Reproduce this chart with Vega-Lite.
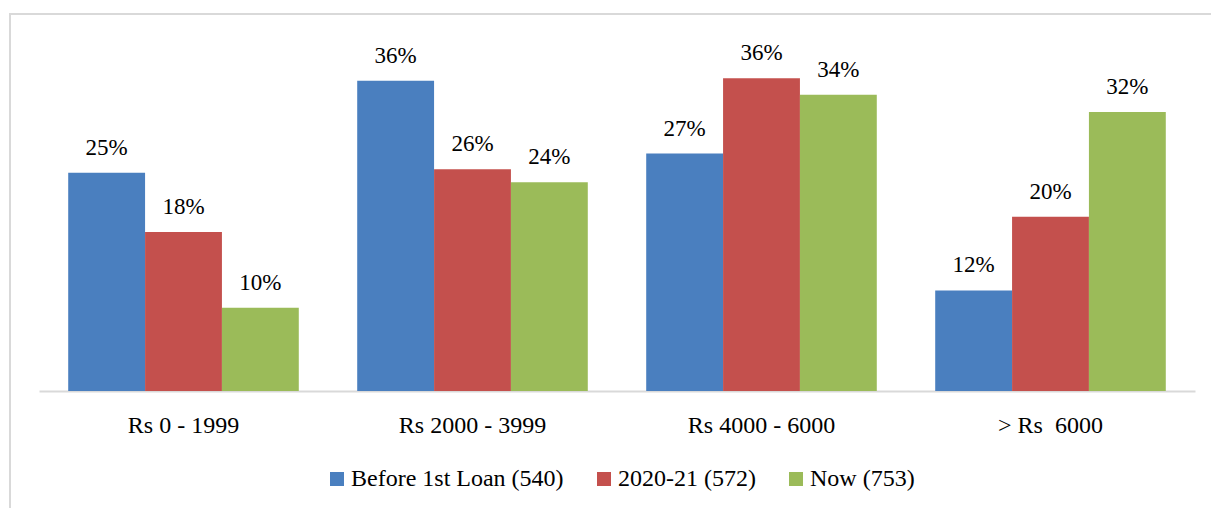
{
  "$schema": "https://vega.github.io/schema/vega-lite/v6.json",
  "autosize": {"type": "none"},
  "padding": {"left": 10, "top": 14, "right": 0, "bottom": 0},
  "width": 1205,
  "height": 498,
  "background": "white",
  "config": {
    "view": {"stroke": "#d9d9d9", "strokeWidth": 2},
    "font": "Liberation Serif"
  },
  "data": {
    "values": [
      {"band": "Rs 0 - 1999", "series": "Before 1st Loan (540)", "value": 0.252},
      {"band": "Rs 0 - 1999", "series": "2020-21 (572)", "value": 0.1835},
      {"band": "Rs 0 - 1999", "series": "Now (753)", "value": 0.096},
      {"band": "Rs 2000 - 3999", "series": "Before 1st Loan (540)", "value": 0.358},
      {"band": "Rs 2000 - 3999", "series": "2020-21 (572)", "value": 0.256},
      {"band": "Rs 2000 - 3999", "series": "Now (753)", "value": 0.241},
      {"band": "Rs 4000 - 6000", "series": "Before 1st Loan (540)", "value": 0.274},
      {"band": "Rs 4000 - 6000", "series": "2020-21 (572)", "value": 0.361},
      {"band": "Rs 4000 - 6000", "series": "Now (753)", "value": 0.342},
      {"band": "> Rs\u00a0 6000", "series": "Before 1st Loan (540)", "value": 0.116},
      {"band": "> Rs\u00a0 6000", "series": "2020-21 (572)", "value": 0.201},
      {"band": "> Rs\u00a0 6000", "series": "Now (753)", "value": 0.322}
    ]
  },
  "encoding": {
    "x": {
      "field": "band",
      "type": "nominal",
      "sort": ["Rs 0 - 1999", "Rs 2000 - 3999", "Rs 4000 - 6000", "> Rs\u00a0 6000"],
      "scale": {"range": [29, 1185], "paddingInner": 0, "paddingOuter": 0},
      "axis": {
        "title": null,
        "labelAngle": 0,
        "offset": -121,
        "ticks": false,
        "tickSize": 0,
        "domainColor": "#d9d9d9",
        "domainWidth": 2,
        "labelFont": "Liberation Serif",
        "labelFontSize": 24,
        "labelColor": "#000000",
        "labelPadding": 22,
        "labelBaseline": "top",
        "labelLimit": 400
      }
    },
    "xOffset": {
      "field": "series",
      "type": "nominal",
      "sort": ["Before 1st Loan (540)", "2020-21 (572)", "Now (753)"],
      "scale": {"paddingInner": 0, "paddingOuter": 0.38}
    },
    "y": {
      "field": "value",
      "type": "quantitative",
      "scale": {"domain": [0, 0.4], "range": [377, 30.4], "nice": false, "zero": true},
      "axis": null
    }
  },
  "layer": [
    {
      "mark": {"type": "bar"},
      "encoding": {
        "color": {
          "field": "series",
          "type": "nominal",
          "sort": ["Before 1st Loan (540)", "2020-21 (572)", "Now (753)"],
          "scale": {
            "domain": ["Before 1st Loan (540)", "2020-21 (572)", "Now (753)"],
            "range": ["#4a7fbf", "#c4504d", "#9bbb59"]
          },
          "legend": {
            "title": null,
            "orient": "none",
            "legendX": 315,
            "legendY": 453,
            "direction": "horizontal",
            "symbolType": "square",
            "symbolSize": 196,
            "symbolStrokeWidth": 0,
            "labelFont": "Liberation Serif",
            "labelFontSize": 24,
            "labelColor": "#000000",
            "labelOffset": 2,
            "labelLimit": 400,
            "columnPadding": 28
          }
        }
      }
    },
    {
      "mark": {
        "type": "text",
        "baseline": "alphabetic",
        "dy": -18,
        "fontSize": 23,
        "font": "Liberation Serif",
        "color": "#000000"
      },
      "encoding": {
        "text": {"field": "value", "type": "quantitative", "format": ".0%"}
      }
    }
  ]
}
